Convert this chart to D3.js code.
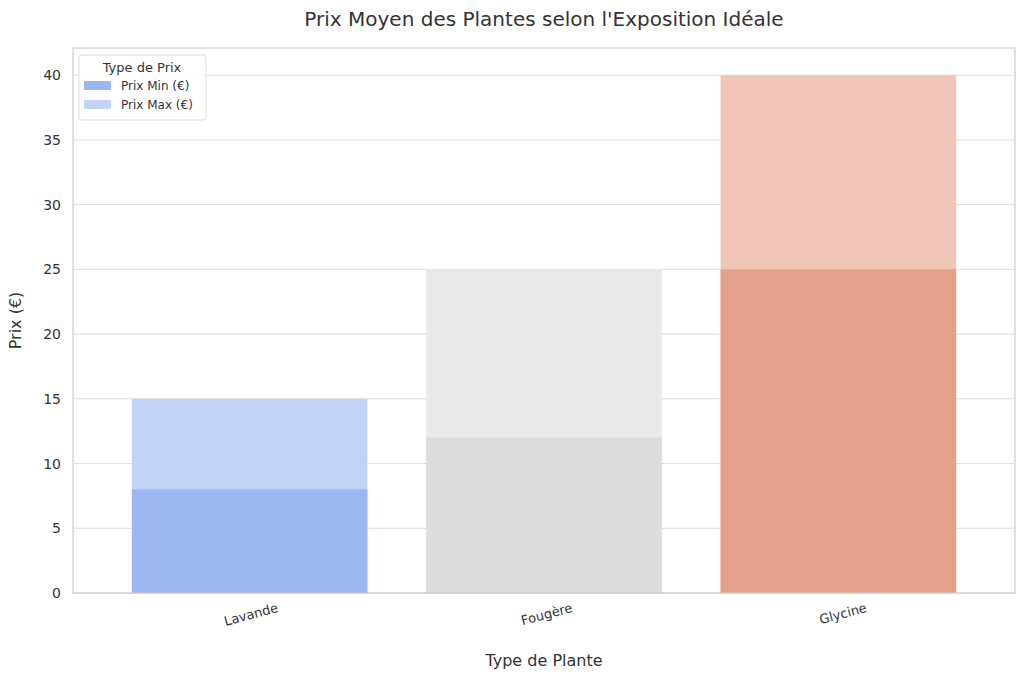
<!DOCTYPE html>
<html><head><meta charset="utf-8">
<script src="https://cdn.jsdelivr.net/npm/d3@7"></script>
<style>body{margin:0;background:#fff;font-family:"DejaVu Sans",sans-serif;}</style>
</head><body><div id="chart"></div>
<script>
// données
const plantes = ["Lavande", "Fougère", "Glycine"];
const prixMin = [8, 12, 25];
const prixMax = [15, 25, 40];
const couleursMin = ["#9bb6f0", "#dcdcdc", "#e3a08a"];
const couleursMax = ["#c3d2f7", "#e9e9e9", "#f0c5b8"];
const yTicks = [0, 5, 10, 15, 20, 25, 30, 35, 40];

const W = 1024, H = 678;
const margin = {top: 48, right: 9, bottom: 85, left: 73};
const width = W - margin.left - margin.right;
const height = H - margin.top - margin.bottom;

const svg = d3.select("#chart").append("svg").attr("width", W).attr("height", H);
const g = svg.append("g").attr("transform", `translate(${margin.left},${margin.top})`);

const x = d3.scaleBand().domain(plantes).range([0, width]).padding(0.2);
const y = d3.scaleLinear().domain([0, 42.1]).range([height, 0]);

// grille
g.selectAll(".grid").data(yTicks).enter().append("line")
  .attr("x1", 0).attr("x2", width)
  .attr("y1", d => y(d)).attr("y2", d => y(d))
  .style("stroke", "#dddddd").style("stroke-width", 1);

// barres max puis min
g.selectAll(".max").data(plantes).enter().append("rect")
  .attr("x", d => x(d)).attr("width", x.bandwidth())
  .attr("y", (d, i) => y(prixMax[i])).attr("height", (d, i) => height - y(prixMax[i]))
  .style("fill", (d, i) => couleursMax[i]);
g.selectAll(".min").data(plantes).enter().append("rect")
  .attr("x", d => x(d)).attr("width", x.bandwidth())
  .attr("y", (d, i) => y(prixMin[i])).attr("height", (d, i) => height - y(prixMin[i]))
  .style("fill", (d, i) => couleursMin[i]);

// cadre
g.append("rect").attr("width", width).attr("height", height)
  .style("fill", "none").style("stroke", "#cccccc").style("stroke-width", 1.2);

// axes
const yAxis = g.append("g").call(d3.axisLeft(y).tickValues(yTicks).tickSize(0).tickPadding(12));
yAxis.select(".domain").remove();
yAxis.selectAll("text").style("font-size", "14px").style("fill", "#333").style("font-family", "DejaVu Sans");

const xAxis = g.append("g").attr("transform", `translate(0,${height})`)
  .call(d3.axisBottom(x).tickSize(0).tickPadding(10));
xAxis.select(".domain").remove();
xAxis.selectAll("text").style("font-size", "13px").style("fill", "#333").style("font-family", "DejaVu Sans")
  .attr("text-anchor", "end").attr("transform", "rotate(-15)").attr("dx", "1.8em").attr("dy", "1.2em");

// titres
svg.append("text").attr("x", margin.left + width / 2).attr("y", 26).attr("text-anchor", "middle")
  .style("font-size", "20px").style("fill", "#333").text("Prix Moyen des Plantes selon l'Exposition Idéale");
svg.append("text").attr("x", margin.left + width / 2).attr("y", 666).attr("text-anchor", "middle")
  .style("font-size", "16px").style("fill", "#333").text("Type de Plante");
svg.append("text").attr("transform", `translate(21,${margin.top + height / 2}) rotate(-90)`)
  .attr("text-anchor", "middle").style("font-size", "16px").style("fill", "#333").text("Prix (€)");

// légende
const leg = svg.append("g").attr("transform", "translate(79,55)");
leg.append("rect").attr("width", 127).attr("height", 65).attr("rx", 3)
  .style("fill", "#fff").style("fill-opacity", 0.85).style("stroke", "#dddddd");
leg.append("text").attr("x", 63).attr("y", 17).attr("text-anchor", "middle")
  .style("font-size", "13px").style("fill", "#333").text("Type de Prix");
const items = [["Prix Min (€)", couleursMin[0]], ["Prix Max (€)", couleursMax[0]]];
items.forEach((it, i) => {
  leg.append("rect").attr("x", 5).attr("y", 26 + i * 19).attr("width", 27).attr("height", 9).style("fill", it[1]);
  leg.append("text").attr("x", 42).attr("y", 35 + i * 19).style("font-size", "12px").style("fill", "#333").text(it[0]);
});
</script></body></html>
